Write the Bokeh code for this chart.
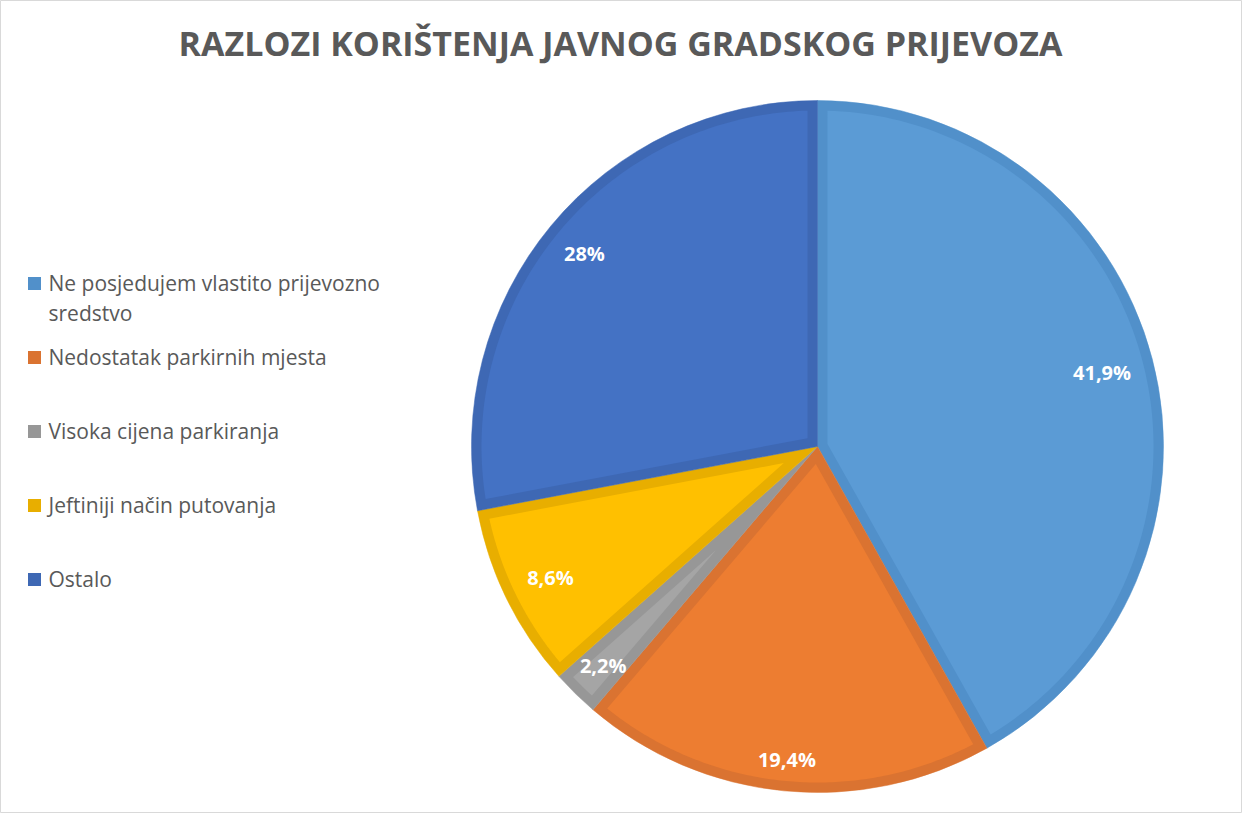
import numpy as np
from bokeh.plotting import figure
from bokeh.models import Range1d, ColumnDataSource
from bokeh.core.properties import value
from bokeh.embed import file_html
from bokeh.resources import INLINE

# ---- data ----
title_text = "RAZLOZI KORIŠTENJA JAVNOG GRADSKOG PRIJEVOZA"
categories = ["Ne posjedujem vlastito prijevozno\nsredstvo",
              "Nedostatak parkirnih mjesta",
              "Visoka cijena parkiranja",
              "Jeftiniji način putovanja",
              "Ostalo"]
values = [41.9, 19.4, 2.2, 8.6, 28.0]
label_texts = ["41,9%", "19,4%", "2,2%", "8,6%", "28%"]
fill_colors = ["#5B9BD5", "#ED7D31", "#A5A5A5", "#FFC000", "#4472C4"]
edge_colors = ["#5190CA", "#DA7331", "#979797", "#E8AE00", "#3E68B4"]
label_radius_frac = [0.85, 0.91, 0.885, 0.86, 0.875]

# ---- layout (pixel-like data units) ----
W, H = 1242, 813
def px(x):  # page x -> data x
    return x - 8
def py(y):  # page y -> data y
    return H - (y - 8)

cx, cy = px(825), py(454)
R = 346.0
inset = 10.0

p = figure(width=W, height=H, output_backend="svg", toolbar_location=None,
           x_range=Range1d(0, W), y_range=Range1d(0, H), min_border=0,
           tools="")
p.xaxis.visible = False
p.yaxis.visible = False
p.xgrid.visible = False
p.ygrid.visible = False
p.outline_line_color = "#D9D9D9"
p.outline_line_width = 1
p.background_fill_color = "white"
p.border_fill_color = "white"

# ---- pie ----
vals = np.array(values, dtype=float)
frac = vals / vals.sum()
cum = np.concatenate([[0.0], np.cumsum(frac)])
t1 = 2 * np.pi * cum[:-1]   # clockwise from top
t2 = 2 * np.pi * cum[1:]

wedge_src = ColumnDataSource(dict(
    start=np.pi / 2 - t2, end=np.pi / 2 - t1, color=edge_colors))
p.wedge(x=cx, y=cy, radius=R, start_angle="start", end_angle="end",
        direction="anticlock", fill_color="color", line_color="color",
        line_width=0.5, source=wedge_src)

xs, ys = [], []
r_in = R - inset
delta = np.arcsin(inset / r_in)
for a, b in zip(t1, t2):
    h = (b - a) / 2
    bis = a + h
    apex = inset / np.sin(h)
    arc = np.linspace(a + delta, b - delta, 120)
    xx = [cx + apex * np.sin(bis)] + list(cx + r_in * np.sin(arc))
    yy = [cy + apex * np.cos(bis)] + list(cy + r_in * np.cos(arc))
    xs.append(xx)
    ys.append(yy)
p.patches(xs=xs, ys=ys, fill_color=fill_colors, line_color=None)

# ---- data labels ----
bis_all = (t1 + t2) / 2
lr = np.array(label_radius_frac) * R
lab_src = ColumnDataSource(dict(
    x=cx + lr * np.sin(bis_all), y=cy + lr * np.cos(bis_all), text=label_texts))
p.text(x="x", y="y", text="text", source=lab_src, text_color="white",
       text_font=value("Open Sans"), text_font_style="bold",
       text_font_size="20px", text_align="center", text_baseline="middle")

# ---- title ----
p.text(x=[px(628)], y=[py(50)], text=[title_text], text_color="#595959",
       text_font=value("Open Sans"), text_font_style="bold",
       text_font_size="34px", text_align="center", text_baseline="middle")

# ---- legend ----
row_y = [290 + 74 * i for i in range(len(categories))]
lx, ly, lt = [], [], []
for y0, cat in zip(row_y, categories):
    for j, line in enumerate(cat.split("\n")):
        lx.append(px(56))
        ly.append(py(y0 + 30 * j))
        lt.append(line)
p.rect(x=[px(42)] * len(categories), y=[py(y + 1) for y in row_y],
       width=13, height=13, fill_color=edge_colors, line_color=None)
leg_src = ColumnDataSource(dict(x=lx, y=ly, text=lt))
p.text(x="x", y="y", text="text", source=leg_src, text_color="#595959",
       text_font=value("Open Sans"), text_font_size="21px",
       text_align="left", text_baseline="middle")

open("out.html", "w").write(file_html(p, INLINE))
